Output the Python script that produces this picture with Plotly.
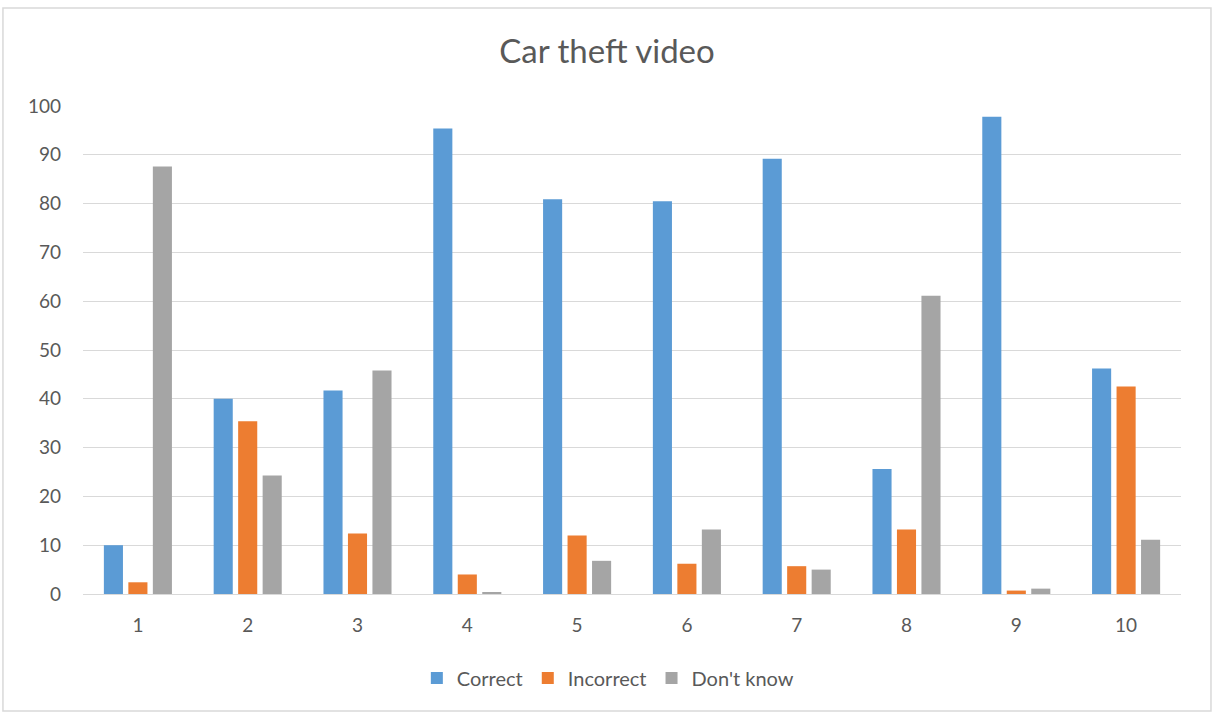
import plotly.graph_objects as go

# Responses per clip in the car theft video study
categories = ["1", "2", "3", "4", "5", "6", "7", "8", "9", "10"]
correct = [10.0, 40.0, 41.7, 95.4, 80.9, 80.5, 89.2, 25.6, 97.8, 46.2]
incorrect = [2.4, 35.4, 12.4, 4.0, 12.0, 6.2, 5.7, 13.2, 0.7, 42.5]
dont_know = [87.6, 24.3, 45.8, 0.3, 6.8, 13.2, 5.0, 61.1, 1.1, 11.1]

y_ticks = [0, 10, 20, 30, 40, 50, 60, 70, 80, 90, 100]

series = [
    ("Correct", correct, "#5b9bd5"),
    ("Incorrect", incorrect, "#ed7d31"),
    ("Don't know", dont_know, "#a5a5a5"),
]

fig = go.Figure()
for name, vals, color in series:
    fig.add_trace(go.Bar(
        x=categories, y=vals, name=name,
        marker=dict(color=color, line=dict(width=0)),
    ))

text_color = "#595959"
font_family = "Lato, 'Open Sans', sans-serif"

fig.update_layout(
    width=1214, height=713,
    margin=dict(l=83, r=33, t=106, b=119),
    paper_bgcolor="white", plot_bgcolor="white",
    barmode="group", bargap=0.331, bargroupgap=0.22,
    title=dict(text="Car theft video", x=0.5, xanchor="center",
               y=1 - 51 / 713, yanchor="middle",
               font=dict(family=font_family, size=33, color=text_color)),
    font=dict(family=font_family, size=19, color=text_color),
    legend=dict(orientation="h", x=0.478, xanchor="center",
                y=-0.172, yanchor="middle",
                font=dict(size=20, color=text_color),
                itemwidth=30, traceorder="normal"),
    showlegend=True,
)

fig.update_yaxes(
    range=[0, 100], tickvals=y_ticks, showgrid=True,
    gridcolor="#d9d9d9", gridwidth=1, zeroline=False,
    showline=False, ticks="", ticklabelstandoff=21,
    tickfont=dict(size=19, color=text_color),
)
fig.update_xaxes(
    showline=True, linecolor="#d9d9d9", linewidth=1,
    ticks="", ticklabelstandoff=14,
    tickfont=dict(size=19, color=text_color),
)

# Outer chart border
fig.add_shape(type="rect", xref="paper", yref="paper",
              x0=-0.0729, x1=1.0273, y0=-0.2398, y1=1.2008,
              line=dict(color="#d9d9d9", width=1.5), fillcolor="rgba(0,0,0,0)",
              layer="below")

fig.write_html("out.html")
